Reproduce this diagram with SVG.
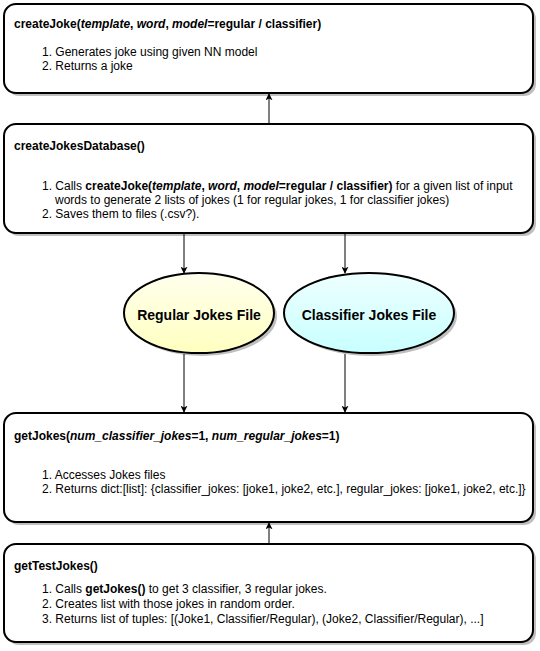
<svg xmlns="http://www.w3.org/2000/svg" width="540" height="651" viewBox="0 0 540 651">
<style>
.box{fill:#fff;stroke:#000;stroke-width:2}
.sh{fill:#000;opacity:0.25}
.t{font-family:"Liberation Sans",Arial,sans-serif;font-size:12px;fill:#000}
.h{font-weight:bold}
.e{font-family:"Liberation Sans",Arial,sans-serif;font-size:14px;font-weight:bold;fill:#000;text-anchor:middle}
.c{stroke:#000;stroke-width:1;fill:none;marker-end:url(#ah)}
</style>
<defs>
<marker id="ah" viewBox="0 0 10 10" refX="9" refY="5" markerWidth="7" markerHeight="7" markerUnits="userSpaceOnUse" orient="auto">
<path d="M0,0 L10,5 L0,10 L2.5,5 Z" fill="#000"/>
</marker>
<linearGradient id="gy" x1="0" y1="0" x2="0" y2="1">
<stop offset="0" stop-color="#ffffee"/>
<stop offset="1" stop-color="#ffffc0"/>
</linearGradient>
<linearGradient id="gc" x1="0" y1="0" x2="0" y2="1">
<stop offset="0" stop-color="#eeffff"/>
<stop offset="1" stop-color="#c8ffff"/>
</linearGradient>
</defs>
<rect width="540" height="651" fill="#fff"/>

<g id="createJoke">
<rect class="sh" x="7" y="7" width="529" height="89" rx="12"/>
<rect class="box" x="4" y="4" width="529" height="89" rx="12"/>
<text class="t h" x="14" y="28">createJoke(<tspan font-style="italic">template</tspan>, <tspan font-style="italic">word</tspan>, <tspan font-style="italic">model</tspan>=regular / classifier)</text>
<text class="t" x="42" y="56">1. Generates joke using given NN model</text>
<text class="t" x="42" y="70">2. Returns a joke</text>
</g>

<g id="createJokesDatabase">
<rect class="sh" x="7" y="127" width="529" height="109" rx="12"/>
<rect class="box" x="4" y="124" width="529" height="109" rx="12"/>
<text class="t h" x="14" y="150">createJokesDatabase()</text>
<text class="t" x="42" y="190">1. Calls <tspan font-weight="bold">createJoke(<tspan font-style="italic">template</tspan>, <tspan font-style="italic">word</tspan>, <tspan font-style="italic">model</tspan>=regular / classifier)</tspan> for a given list of input</text>
<text class="t" x="55" y="204">words to generate 2 lists of jokes (1 for regular jokes, 1 for classifier jokes)</text>
<text class="t" x="42" y="218">2. Saves them to files (.csv?).</text>
</g>

<g id="regularFile">
<ellipse class="sh" cx="202" cy="316" rx="75" ry="40"/>
<ellipse cx="199" cy="313" rx="75" ry="40" fill="url(#gy)" stroke="#000" stroke-width="2"/>
<text class="e" x="199" y="320">Regular Jokes File</text>
</g>

<g id="classifierFile">
<ellipse class="sh" cx="372" cy="316" rx="85" ry="40"/>
<ellipse cx="369" cy="313" rx="85" ry="40" fill="url(#gc)" stroke="#000" stroke-width="2"/>
<text class="e" x="369" y="320">Classifier Jokes File</text>
</g>

<g id="getJokes">
<rect class="sh" x="7" y="416" width="529" height="109" rx="12"/>
<rect class="box" x="4" y="413" width="529" height="109" rx="12"/>
<text class="t h" x="14" y="440">getJokes(<tspan font-style="italic">num_classifier_jokes</tspan>=1, <tspan font-style="italic">num_regular_jokes</tspan>=1)</text>
<text class="t" x="42" y="479">1. Accesses Jokes files</text>
<text class="t" x="42" y="493">2. Returns dict:[list]: {classifier_jokes: [joke1, joke2, etc.], regular_jokes: [joke1, joke2, etc.]}</text>
</g>

<g id="getTestJokes">
<rect class="sh" x="7" y="547" width="529" height="98" rx="12"/>
<rect class="box" x="4" y="544" width="529" height="98" rx="12"/>
<text class="t h" x="14" y="570">getTestJokes()</text>
<text class="t" x="42" y="593">1. Calls <tspan font-weight="bold">getJokes()</tspan> to get 3 classifier, 3 regular jokes.</text>
<text class="t" x="42" y="608">2. Creates list with those jokes in random order.</text>
<text class="t" x="42" y="623">3. Returns list of tuples: [(Joke1, Classifier/Regular), (Joke2, Classifier/Regular), ...]</text>
</g>

<g id="connectors">
<line class="c" x1="269" y1="124" x2="269" y2="94"/>
<line class="c" x1="184" y1="234" x2="184" y2="273"/>
<line class="c" x1="345" y1="234" x2="345" y2="273"/>
<line class="c" x1="184" y1="354" x2="184" y2="412"/>
<line class="c" x1="345" y1="354" x2="345" y2="412"/>
<line class="c" x1="269" y1="544" x2="269" y2="523"/>
</g>
</svg>
